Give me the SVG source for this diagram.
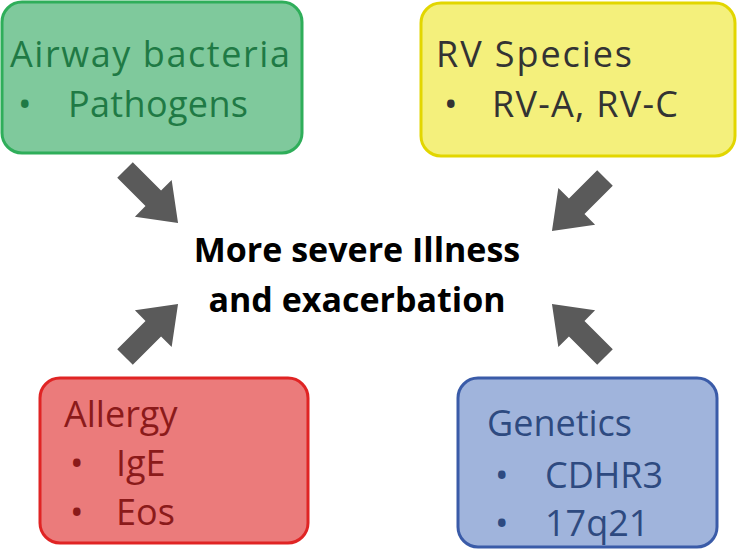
<svg xmlns="http://www.w3.org/2000/svg" width="739" height="556" viewBox="0 0 739 556">
<style>
.t{font-family:"Open Sans","Liberation Sans",sans-serif;font-size:36px}
.c{font-family:"Open Sans","Liberation Sans",sans-serif;font-size:34px;font-weight:bold;fill:#000}
</style>
<defs><path id="ar" d="M0,-11 L40,-11 L40,-26 L75,0 L40,26 L40,11 L0,11 Z" fill="#5a5a5a"/></defs>
<rect width="739" height="556" fill="#fff"/>
<g id="bacteria">
<rect x="2" y="2" width="300" height="151" rx="20" fill="#7fc99c" stroke="#2fae5a" stroke-width="3"/>
<text class="t" x="10" y="67" fill="#1f7a45" textLength="280">Airway bacteria</text>
<text class="t" x="18" y="117" fill="#1f7a45">•</text>
<text class="t" x="68" y="117" fill="#1f7a45" textLength="180">Pathogens</text>
</g>
<g id="rv">
<rect x="421" y="3" width="314" height="153" rx="20" fill="#f4f07c" stroke="#e2d600" stroke-width="3"/>
<text class="t" x="436" y="67" fill="#333" textLength="196">RV Species</text>
<text class="t" x="444" y="117" fill="#333">•</text>
<text class="t" x="492" y="117" fill="#333" textLength="186">RV-A, RV-C</text>
</g>
<g id="center">
<text class="c" x="357" y="262" text-anchor="middle">More severe Illness</text>
<text class="c" x="357" y="312" text-anchor="middle">and exacerbation</text>
</g>
<g id="allergy">
<rect x="40" y="378" width="268" height="165" rx="20" fill="#eb7b7b" stroke="#e02424" stroke-width="3"/>
<text class="t" x="64" y="427" fill="#8b1a1a">Allergy</text>
<text class="t" x="70" y="476" fill="#8b1a1a">•</text>
<text class="t" x="116" y="476" fill="#8b1a1a">IgE</text>
<text class="t" x="70" y="525" fill="#8b1a1a">•</text>
<text class="t" x="116" y="525" fill="#8b1a1a">Eos</text>
</g>
<g id="genetics">
<rect x="458" y="378" width="259" height="169" rx="20" fill="#a0b4dc" stroke="#3a5ba8" stroke-width="3"/>
<text class="t" x="487" y="436" fill="#2e4a80">Genetics</text>
<text class="t" x="495" y="488" fill="#2e4a80">•</text>
<text class="t" x="545" y="488" fill="#2e4a80">CDHR3</text>
<text class="t" x="495" y="536" fill="#2e4a80">•</text>
<text class="t" x="545" y="536" fill="#2e4a80">17q21</text>
</g>
<g id="connectors">
<use href="#ar" transform="translate(125,170) rotate(45)"/>
<use href="#ar" transform="translate(605,178) rotate(135)"/>
<use href="#ar" transform="translate(125,357) rotate(-45)"/>
<use href="#ar" transform="translate(605,357) rotate(-135)"/>
</g>
</svg>
